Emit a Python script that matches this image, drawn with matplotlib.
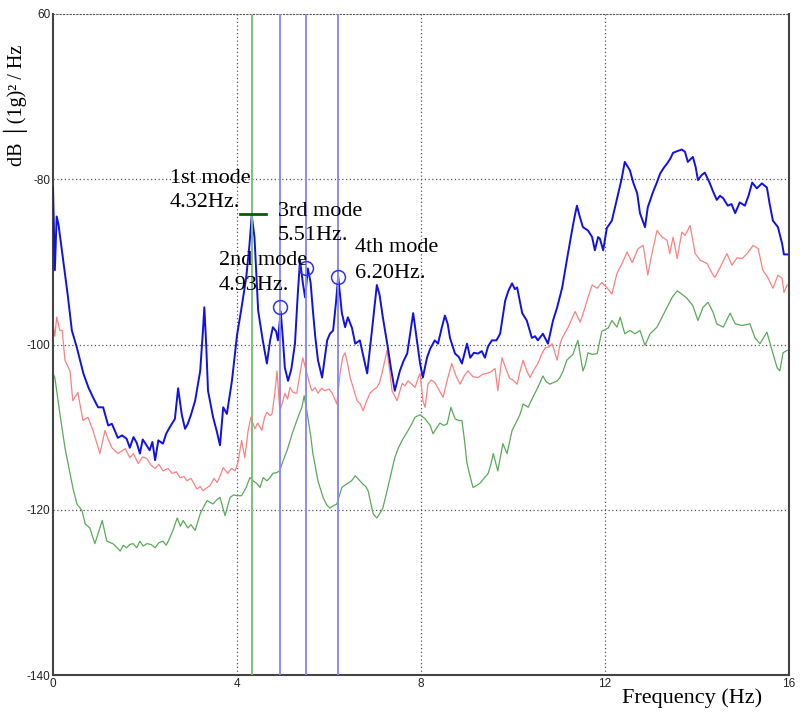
import matplotlib
matplotlib.use("Agg")
import matplotlib.pyplot as plt
import numpy as np

freq_blue = [0.0, 0.04, 0.08, 0.12, 0.22, 0.32, 0.41, 0.52, 0.66, 0.77, 0.87, 0.98, 1.09, 1.2, 1.28,
             1.41, 1.5, 1.6, 1.67, 1.75, 1.82, 1.89, 1.95, 2.0, 2.1, 2.16, 2.22, 2.29, 2.39, 2.46,
             2.54, 2.65, 2.72, 2.8, 2.87, 2.93, 3.0, 3.09, 3.2, 3.26, 3.29, 3.33, 3.37, 3.48, 3.56,
             3.63, 3.7, 3.78, 3.89, 4.0, 4.1, 4.2, 4.27, 4.32, 4.38, 4.46, 4.56, 4.65, 4.72, 4.78,
             4.85, 4.89, 4.95, 5.0, 5.04, 5.11, 5.18, 5.26, 5.32, 5.37, 5.43, 5.48, 5.54, 5.6, 5.65,
             5.7, 5.76, 5.85, 5.96, 6.02, 6.09, 6.15, 6.2, 6.28, 6.35, 6.41, 6.5, 6.57, 6.67, 6.75,
             6.83, 6.93, 7.04, 7.1, 7.17, 7.28, 7.35, 7.43, 7.54, 7.62, 7.7, 7.83, 7.91, 7.98, 8.04,
             8.13, 8.2, 8.3, 8.37, 8.45, 8.52, 8.58, 8.63, 8.74, 8.82, 8.89, 9.0, 9.07, 9.15, 9.24,
             9.32, 9.39, 9.46, 9.54, 9.64, 9.72, 9.83, 9.9, 9.98, 10.04, 10.09, 10.2, 10.3, 10.41,
             10.48, 10.54, 10.65, 10.76, 10.87, 10.96, 11.07, 11.17, 11.28, 11.34, 11.39, 11.45,
             11.52, 11.63, 11.72, 11.78, 11.85, 11.89, 11.96, 12.04, 12.15, 12.28, 12.36, 12.43,
             12.54, 12.62, 12.7, 12.76, 12.87, 12.93, 13.04, 13.12, 13.2, 13.28, 13.35, 13.42,
             13.48, 13.57, 13.67, 13.74, 13.8, 13.91, 13.97, 14.02, 14.1, 14.17, 14.28, 14.35,
             14.43, 14.5, 14.57, 14.67, 14.75, 14.83, 14.93, 15.04, 15.12, 15.2, 15.3, 15.41,
             15.52, 15.58, 15.65, 15.76, 15.85, 15.89, 15.96]
psd_blue = [-81, -91, -84.5, -85.5, -89.8, -94, -98.3, -100.4, -103.5, -105.2, -106.4, -107.6, -107.6,
            -109.8, -109.6, -111.3, -111.0, -111.4, -112.5, -111.2, -111.9, -113.2, -111.5, -111.9,
            -112.8, -111.8, -114, -111.6, -112, -110.8, -110, -109, -105.3, -108.5, -110.2, -109.6,
            -108.5, -106.8, -103.2, -98.3, -95.5, -100, -105.6, -108.8, -110.5, -112.2, -107.6,
            -108.4, -104.4, -98.9, -95.5, -91.9, -88, -84.4, -87, -95.9, -99.5, -102.3, -99.5,
            -97.9, -98.4, -99.5, -96.0, -99.5, -102.8, -104.4, -103, -99.9, -94, -89.8, -92.5,
            -94.3, -90.8, -92.5, -95.9, -99, -101.9, -104, -99.5, -98.7, -98.3, -95, -91.8, -96.2,
            -97.9, -96.7, -98, -99.9, -99.5, -101.5, -103.5, -98.5, -92.8, -94, -96.7, -100.4,
            -103, -105.6, -103.2, -102, -101.1, -96.2, -99.5, -102.3, -104, -101.6, -100.5, -99.5,
            -99.9, -98, -96.5, -97.5, -99.2, -101.1, -101.5, -102.3, -99.9, -101.6, -101, -101.1,
            -100.8, -101.6, -100.2, -99.5, -99.5, -98.7, -94.7, -93.5, -92.6, -93.3, -93.1, -96.2,
            -97.1, -99.2, -99.0, -99.5, -98.7, -99.9, -97.1, -95.5, -93.1, -89.8, -86.3, -84.5,
            -83.2, -84.5, -85.8, -86.2, -87, -88.6, -87, -87.2, -88.6, -85.9, -85, -81.9, -80,
            -77.9, -78.9, -80.5, -81.7, -84.1, -85.8, -83.4, -81.6, -80.5, -79.3, -78.6, -78.1,
            -77.5, -76.8, -76.6, -76.4, -76.7, -77.9, -77.3, -78.5, -80.1, -79.5, -79.2, -80.5,
            -81.5, -82.5, -82.0, -82.3, -83.2, -83, -84.1, -82.8, -83.2, -82, -80.4, -81.1, -80.5,
            -81, -83, -85, -85.8, -87.8, -89.1, -89.1]

freq_red = [0.0, 0.04, 0.08, 0.15, 0.2, 0.26, 0.37, 0.43, 0.54, 0.65, 0.76, 0.87, 1.02, 1.13, 1.2,
            1.28, 1.41, 1.57, 1.67, 1.75, 1.85, 1.95, 2.04, 2.13, 2.22, 2.3, 2.39, 2.5, 2.59, 2.68,
            2.76, 2.85, 2.91, 3.0, 3.13, 3.2, 3.26, 3.35, 3.41, 3.5, 3.57, 3.64, 3.7, 3.8, 3.88,
            3.96, 4.02, 4.1, 4.17, 4.24, 4.3, 4.39, 4.45, 4.54, 4.6, 4.65, 4.72, 4.76, 4.82, 4.87,
            4.93, 4.98, 5.04, 5.1, 5.15, 5.22, 5.3, 5.36, 5.43, 5.52, 5.6, 5.63, 5.7, 5.76, 5.84,
            5.91, 6.0, 6.07, 6.17, 6.24, 6.3, 6.35, 6.41, 6.46, 6.54, 6.61, 6.68, 6.74, 6.82, 6.89,
            6.96, 7.04, 7.1, 7.15, 7.22, 7.26, 7.32, 7.37, 7.48, 7.59, 7.65, 7.72, 7.8, 7.87, 7.94,
            7.98, 8.04, 8.09, 8.15, 8.22, 8.3, 8.4, 8.48, 8.57, 8.67, 8.76, 8.85, 8.94, 9.02, 9.13,
            9.24, 9.34, 9.43, 9.52, 9.61, 9.67, 9.76, 9.85, 9.93, 10.0, 10.09, 10.15, 10.22, 10.3,
            10.37, 10.46, 10.54, 10.62, 10.7, 10.78, 10.85, 10.96, 11.02, 11.07, 11.2, 11.35,
            11.46, 11.55, 11.63, 11.72, 11.83, 11.93, 12.04, 12.15, 12.26, 12.37, 12.48, 12.59,
            12.72, 12.83, 12.93, 13.02, 13.13, 13.24, 13.35, 13.41, 13.48, 13.57, 13.67, 13.74,
            13.85, 13.96, 14.07, 14.22, 14.33, 14.39, 14.5, 14.65, 14.76, 14.87, 14.98, 15.09,
            15.22, 15.33, 15.43, 15.54, 15.65, 15.76, 15.85, 15.89, 15.96]
psd_red = [-97.5, -99, -96.7, -98.3, -98.3, -101.9, -103.2, -106.8, -105.8, -109.2, -108.8, -110.4,
           -113.2, -110.4, -111.5, -112.5, -113.2, -112.6, -113.7, -113.2, -114.4, -113.6, -113.8,
           -114.6, -115, -114.5, -115.3, -115, -115.6, -115.4, -116.1, -116, -116.5, -116.2, -117.5,
           -117.2, -117.7, -117.3, -117.1, -116.2, -116.7, -115.8, -114.9, -115.6, -115.0, -115.3,
           -114.3, -111.6, -113.7, -110.5, -108.8, -110.2, -109.5, -110.4, -108.8, -108.2, -108.6,
           -108.4, -106, -103.2, -108, -107.2, -105.9, -106.6, -105.2, -105.8, -105.9, -103.8,
           -101.6, -103.5, -105.2, -105.6, -105.2, -105.9, -105.3, -105.6, -105.4, -105.9, -107.2,
           -103.5, -101.5, -101, -102.5, -104, -105.5, -106.8, -107.2, -108, -106.8, -105.9, -105.5,
           -105.2, -104.6, -103.5, -101.8, -100.7, -103.2, -105.6, -106.8, -104.7, -105.0, -104.4,
           -104.8, -105.2, -104, -103.5, -106.8, -107.6, -104.8, -104.3, -104.6, -105.6, -106.4,
           -104.3, -102.3, -103.8, -104.8, -103.8, -103.2, -103.9, -104, -103.6, -103.5, -103.3,
           -102.9, -105.6, -101.6, -103, -104.1, -104.3, -104.8, -103.3, -101.9, -103.2, -104,
           -103, -102.3, -101.2, -100.4, -100.3, -99.9, -101.9, -100, -99.2, -97.9, -96, -97.3,
           -95.8, -94.3, -92.8, -93.2, -92.5, -93.1, -93.9, -91.4, -90.2, -88.8, -90.1, -88.4,
           -88, -91.6, -89, -86.2, -87, -87.4, -89, -87, -89.6, -86.4, -86.8, -85.6, -89, -89.8,
           -90.2, -91.4, -91.9, -90.7, -89, -90.4, -89.5, -89.6, -89, -88, -88.4, -91, -91.9,
           -93.2, -91.6, -92, -93.7, -92.8]

freq_green = [0.0, 0.04, 0.15, 0.26, 0.37, 0.43, 0.52, 0.63, 0.7, 0.8, 0.91, 1.0, 1.07, 1.17, 1.3,
              1.38, 1.46, 1.53, 1.6, 1.67, 1.74, 1.82, 1.89, 1.96, 2.04, 2.13, 2.22, 2.3, 2.39,
              2.46, 2.54, 2.62, 2.7, 2.77, 2.83, 2.93, 3.0, 3.09, 3.2, 3.28, 3.35, 3.48, 3.56,
              3.63, 3.74, 3.85, 3.93, 4.0, 4.1, 4.2, 4.28, 4.35, 4.43, 4.5, 4.57, 4.65, 4.72, 4.78,
              4.86, 4.93, 4.98, 5.09, 5.2, 5.3, 5.41, 5.46, 5.54, 5.6, 5.65, 5.76, 5.87, 5.95, 6.02,
              6.1, 6.17, 6.28, 6.35, 6.41, 6.49, 6.57, 6.64, 6.72, 6.8, 6.85, 6.96, 7.04, 7.1, 7.17,
              7.25, 7.33, 7.43, 7.51, 7.59, 7.72, 7.8, 7.87, 7.98, 8.09, 8.2, 8.26, 8.33, 8.41,
              8.49, 8.57, 8.65, 8.74, 8.82, 8.89, 8.95, 9.0, 9.07, 9.13, 9.2, 9.28, 9.37, 9.46,
              9.52, 9.57, 9.67, 9.72, 9.78, 9.87, 9.98, 10.09, 10.15, 10.22, 10.33, 10.43, 10.54,
              10.65, 10.72, 10.8, 10.88, 10.96, 11.02, 11.09, 11.17, 11.3, 11.41, 11.52, 11.57,
              11.63, 11.72, 11.83, 11.93, 12.07, 12.15, 12.26, 12.33, 12.43, 12.54, 12.65, 12.76,
              12.87, 12.98, 13.13, 13.24, 13.35, 13.46, 13.57, 13.67, 13.78, 13.91, 14.02, 14.13,
              14.24, 14.35, 14.43, 14.57, 14.72, 14.83, 14.98, 15.15, 15.26, 15.37, 15.52, 15.63,
              15.74, 15.8, 15.87, 15.96]
psd_green = [-103.5, -104, -108.4, -112.5, -115.6, -117.3, -119.3, -120.1, -121.7, -122.2, -124.1,
             -122.5, -121.3, -123.8, -124.1, -124.5, -125, -124.3, -124.6, -124.2, -124.1, -124.6,
             -123.8, -124.4, -124.1, -124.2, -124.6, -124.0, -123.8, -124.3, -123.4, -122.3, -121,
             -122, -121.3, -122.2, -121.8, -122.5, -120.5, -119.6, -118.9, -119.3, -118.8, -118.5,
             -120.7, -118.5, -118.2, -118.3, -118.3, -117.3, -116.1, -116.5, -116.8, -117.3, -116.1,
             -116.5, -116.1, -115.6, -115.5, -115.3, -114.4, -112.8, -110.8, -109.2, -107.6, -106.2,
             -108.8, -111, -113.2, -116.5, -118.5, -119.4, -119.8, -119.5, -119.3, -117.3, -117.0,
             -116.8, -116.5, -115.9, -116.3, -116.8, -117.2, -117.7, -120.5, -121, -120.5, -119.8,
             -118, -116.1, -113.7, -112.5, -111.6, -110.4, -109.6, -108.8, -108.5, -109, -109.8,
             -110.8, -110.2, -109.5, -109.8, -109.6, -107.6, -109, -109.2, -109.2, -111.8, -114.4,
             -116, -117.3, -117.1, -116.8, -116.2, -115.6, -114.5, -113.2, -115.3, -113.8, -112,
             -113.2, -110.4, -109.2, -108.5, -107.2, -107.6, -106.4, -105.2, -103.8, -104.5, -104.8,
             -104.6, -104.4, -104, -103.2, -101.9, -101.2, -99.5, -103.2, -102.5, -101, -101.2,
             -101.1, -98.4, -98, -97.1, -97.9, -96.7, -98.7, -98.3, -98.7, -98.3, -100.1, -98.7,
             -97.9, -96.7, -95.5, -94.3, -93.5, -93.9, -94.4, -95.3, -97.1, -95.5, -94.9, -96.1,
             -97.5, -97.9, -96.2, -97.5, -97.7, -97.5, -99.2, -99.9, -98.5, -100.7, -102.8, -103.2,
             -101, -100.7]

# Identified modes
mode_freqs = [4.32, 4.93, 5.51, 6.20]
mode_names = ["1st mode", "2nd mode", "3rd mode", "4th mode"]
mode_peaks = [-84.2, -95.5, -90.8, -91.8]

fig = plt.figure(figsize=(8.01, 7.2), dpi=100)
ax = fig.add_axes([53 / 801, 45 / 720, 736 / 801, 661 / 720])

ax.plot(freq_green, psd_green, color="#5aaa5a", lw=0.9, zorder=2)
ax.plot(freq_red, psd_red, color="#ff8080", lw=0.9, zorder=2)
ax.plot(freq_blue, psd_blue, color="#1010e8", lw=1.4, zorder=3)

# Mode markers
ax.axvline(mode_freqs[0], color="#7cc07c", lw=1.4, zorder=4)
for f in mode_freqs[1:]:
    ax.axvline(f, color="#8a8aff", lw=1.4, zorder=4)
ax.plot([mode_freqs[0] - 0.25, mode_freqs[0] + 0.3], [mode_peaks[0]] * 2,
        color="#0a5a0a", lw=2, zorder=5)
ax.plot(mode_freqs[1:], mode_peaks[1:], "o", ms=10, mfc="none", mec="#3030ff",
        mew=1.1, zorder=5)

# label anchor: left x, baseline of first line, baseline of second line
label_pos = [(2.54, -80.4, -83.4), (3.61, -90.4, -93.45),
             (4.89, -84.4, -87.4), (6.57, -88.85, -91.9)]
for (x, y1, y2), name, f in zip(label_pos, mode_names, mode_freqs):
    ax.text(x, y1, name, family="Liberation Serif", fontsize=16,
            va="baseline", ha="left", zorder=6)
    ax.text(x, y2, f"{f:.2f}Hz.", family="Liberation Serif", fontsize=16,
            va="baseline", ha="left", zorder=6)

ax.set_xlim(0, 16)
ax.set_ylim(-140, -60)
ax.set_xticks([0, 4, 8, 12, 16])
ax.set_yticks([-140, -120, -100, -80, -60])
ax.set_yticklabels(["-140", "-120", "-100", "-80", "60"])
ax.tick_params(labelsize=8.5, length=0, pad=2, labelcolor="#222222")
for lab in ax.get_xticklabels() + ax.get_yticklabels():
    lab.set_family("Liberation Sans")

for v in [4, 8, 12]:
    ax.axvline(v, color="#555555", lw=0.9, ls=(0, (1, 2)), zorder=1)
for v in [-80, -100, -120]:
    ax.axhline(v, color="#555555", lw=0.9, ls=(0, (1, 2)), zorder=1)

ax.spines["top"].set_linestyle((0, (1, 2)))
ax.spines["top"].set_color("#555555")
for s in ["left", "bottom", "right"]:
    ax.spines[s].set_color("#444444")
    ax.spines[s].set_linewidth(1.5)

fig.text(622 / 801, 17 / 720, "Frequency (Hz)", family="Liberation Serif", fontsize=16,
         ha="left", va="baseline")
fig.text(16 / 801, 1 - 105 / 720, "dB │(1g)² / Hz", family="Liberation Serif", fontsize=14.5,
         rotation=90, ha="center", va="center")

fig.savefig("out.png", dpi=100)
